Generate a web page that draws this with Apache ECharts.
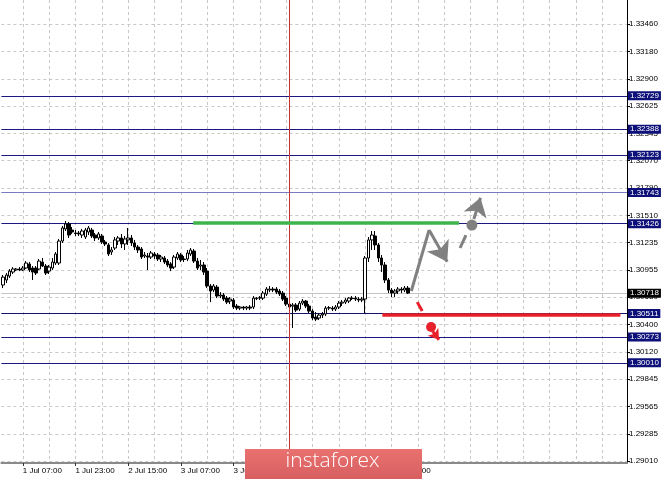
<!DOCTYPE html>
<html>
<head>
<meta charset="utf-8">
<script src="https://cdn.jsdelivr.net/npm/echarts@6/dist/echarts.min.js"></script>
<style>html,body{margin:0;padding:0;background:#fff}#c{width:665px;height:480px}</style>
</head>
<body>
<div id="c"></div>
<script>
// ---- data ----
const slotCount = 190;                // category slots on the time axis (incl. empty future)
const firstBar = 10;                  // bar number of first drawn candle (1 Jul 01:00)
const labelEvery = 16;                // time label every 16 H1 bars
const gridEvery = 8;                  // vertical grid every 8 bars
const lastBar = 133;
const xTickLabels = ['1 Jul 07:00','1 Jul 23:00','2 Jul 15:00','3 Jul 07:00','3 Jul 23:00','4 Jul 15:00','5 Jul 07:00','5 Jul 23:00'];
const yTicks = [1.33460,1.33180,1.32900,1.32625,1.32345,1.32070,1.31790,1.31510,1.31235,1.30955,1.30680,1.30400,1.30120,1.29845,1.29565,1.29285,1.29010];
// [open, close, low, high]
const candles = [
[1.30802,1.30883,1.30771,1.30904],[1.30853,1.30904,1.30822,1.30924],[1.30893,1.30944,1.30873,1.30965],[1.30934,1.30965,1.30914,1.30985],
[1.30955,1.30965,1.30944,1.30975],[1.30965,1.30955,1.30944,1.30985],[1.30955,1.30975,1.30944,1.30995],[1.30975,1.31026,1.30965,1.31046],
[1.31016,1.30955,1.30934,1.31036],[1.30975,1.30934,1.30853,1.30995],[1.30975,1.30924,1.30904,1.30995],[1.30965,1.31046,1.30955,1.31067],
[1.31036,1.30995,1.30985,1.31077],[1.30995,1.30924,1.30904,1.31016],[1.30944,1.30985,1.30914,1.31006],[1.30975,1.31036,1.30955,1.31077],
[1.31026,1.31118,1.31006,1.31138],[1.31026,1.31250,1.31006,1.31271],[1.31250,1.31383,1.31230,1.31403],[1.31373,1.31424,1.31352,1.31454],
[1.31424,1.31311,1.31281,1.31444],[1.31362,1.31342,1.31322,1.31393],[1.31332,1.31327,1.31301,1.31362],[1.31332,1.31322,1.31301,1.31352],
[1.31311,1.31352,1.31281,1.31373],[1.31291,1.31362,1.31271,1.31383],[1.31342,1.31383,1.31311,1.31403],[1.31362,1.31301,1.31281,1.31383],
[1.31311,1.31281,1.31250,1.31332],[1.31281,1.31322,1.31261,1.31342],[1.31301,1.31240,1.31220,1.31322],[1.31240,1.31220,1.31199,1.31261],
[1.31210,1.31118,1.31097,1.31230],[1.31138,1.31159,1.31108,1.31189],[1.31179,1.31261,1.31159,1.31291],[1.31250,1.31281,1.31210,1.31301],
[1.31281,1.31220,1.31179,1.31322],[1.31220,1.31271,1.31159,1.31301],[1.31261,1.31281,1.31210,1.31383],[1.31281,1.31230,1.31199,1.31311],
[1.31230,1.31189,1.31159,1.31261],[1.31189,1.31159,1.31128,1.31210],[1.31169,1.31087,1.31067,1.31189],[1.31097,1.31108,1.31077,1.31138],
[1.31097,1.31087,1.30955,1.31128],[1.31087,1.31128,1.31067,1.31148],[1.31118,1.31097,1.31067,1.31138],[1.31108,1.31067,1.31046,1.31128],
[1.31067,1.31087,1.31036,1.31108],[1.31077,1.31036,1.31016,1.31097],[1.31046,1.31006,1.30985,1.31067],[1.31016,1.30975,1.30944,1.31036],
[1.30985,1.31087,1.30965,1.31108],[1.31077,1.31118,1.31057,1.31138],[1.31108,1.31057,1.31036,1.31128],[1.31067,1.31062,1.31036,1.31097],
[1.31067,1.31128,1.31046,1.31159],[1.31118,1.31159,1.31097,1.31179],[1.31148,1.31046,1.31026,1.31169],[1.31046,1.30975,1.30955,1.31077],
[1.30995,1.31006,1.30955,1.31057],[1.31006,1.30934,1.30904,1.31036],[1.30944,1.30792,1.30771,1.30975],[1.30792,1.30741,1.30628,1.30812],
[1.30751,1.30792,1.30730,1.30812],[1.30781,1.30690,1.30669,1.30802],[1.30690,1.30700,1.30669,1.30730],[1.30700,1.30659,1.30639,1.30720],
[1.30669,1.30628,1.30608,1.30690],[1.30639,1.30659,1.30608,1.30679],[1.30649,1.30578,1.30557,1.30669],[1.30588,1.30567,1.30547,1.30608],
[1.30567,1.30578,1.30547,1.30588],[1.30578,1.30567,1.30547,1.30588],[1.30567,1.30578,1.30547,1.30588],[1.30578,1.30567,1.30547,1.30598],
[1.30578,1.30669,1.30557,1.30690],[1.30669,1.30664,1.30649,1.30679],[1.30669,1.30674,1.30649,1.30690],[1.30669,1.30720,1.30649,1.30741],
[1.30710,1.30761,1.30690,1.30781],[1.30751,1.30761,1.30730,1.30792],[1.30761,1.30751,1.30730,1.30781],[1.30761,1.30730,1.30710,1.30781],
[1.30741,1.30710,1.30690,1.30761],[1.30720,1.30659,1.30639,1.30741],[1.30669,1.30608,1.30588,1.30690],[1.30608,1.30578,1.30557,1.30628],
[1.30588,1.30598,1.30364,1.30618],[1.30598,1.30547,1.30527,1.30618],[1.30557,1.30618,1.30537,1.30639],[1.30618,1.30639,1.30598,1.30659],
[1.30639,1.30588,1.30567,1.30649],[1.30588,1.30537,1.30516,1.30608],[1.30537,1.30466,1.30445,1.30557],[1.30476,1.30455,1.30435,1.30527],
[1.30466,1.30496,1.30445,1.30516],[1.30496,1.30507,1.30466,1.30527],[1.30507,1.30567,1.30486,1.30588],[1.30567,1.30572,1.30547,1.30588],
[1.30567,1.30557,1.30537,1.30588],[1.30557,1.30578,1.30537,1.30598],[1.30578,1.30618,1.30557,1.30639],[1.30618,1.30628,1.30588,1.30649],
[1.30628,1.30649,1.30608,1.30669],[1.30639,1.30669,1.30618,1.30679],[1.30669,1.30664,1.30649,1.30690],[1.30669,1.30659,1.30639,1.30690],
[1.30659,1.30649,1.30628,1.30679],[1.30649,1.30659,1.30628,1.30679],[1.30659,1.31077,1.30516,1.31097],[1.31077,1.31261,1.31036,1.31291],
[1.31261,1.31311,1.31159,1.31352],[1.31301,1.31210,1.31159,1.31352],[1.31210,1.31077,1.31036,1.31230],[1.31077,1.31006,1.30934,1.31108],
[1.31006,1.30853,1.30822,1.31036],[1.30853,1.30751,1.30720,1.30873],[1.30751,1.30720,1.30679,1.30771],[1.30720,1.30741,1.30679,1.30761],
[1.30741,1.30761,1.30710,1.30781],[1.30761,1.30751,1.30720,1.30781],[1.30751,1.30771,1.30730,1.30792],[1.30771,1.30720,1.30710,1.30792]
];
const levels = [1.32729, 1.32388, 1.32123, 1.31743, 1.31426, 1.30511, 1.30273, 1.30010];
const levelColors = ['#1a1a80','#1a1a80','#1a1a80','#7a7ac0','#1a1a80','#14146e','#1a1a80','#1a1a80'];
const currentPrice = 1.30718;
// annotations: [barNumber, price]
const verticalLineBar = 96.9;
const greenSegment = [[67.75, 1.31441], [148.5, 1.31441]];
const redSegment = [[125.2, 1.30502], [197.5, 1.30502]];
const grayPath = [[134.0, 1.30741], [139.4, 1.31362], [144.9, 1.31040]];
const grayDash = [[148.8, 1.31179], [150.6, 1.31311]];
const grayDot = [152.4, 1.31413];
const grayArrow2 = [[153.0, 1.31474], [155.0, 1.31690]];
const redDash = [[135.8, 1.30628], [137.3, 1.30537]];
const redDot = [140.0, 1.30374];
const redArrow = [[140.5, 1.30330], [142.4, 1.30245]];

// ---- chart ----
const categories = Array.from({length: slotCount}, (_, c) => String(firstBar + c));
const candleData = candles.map((c, k) => [k, c[0], c[1], c[2], c[3]]);
const gridBars = [];
for (let b = 0; b <= firstBar + slotCount; b += gridEvery) if (b >= firstBar) gridBars.push(b);
const isLabelSlot = (c) => { const b = firstBar + c; return b % labelEvery === 0 && b <= lastBar; };
const FONT = 'Liberation Sans';
const chart = echarts.init(document.getElementById('c'), null, {renderer: 'canvas'});

function seg(a, b, color, width, endArrow, arrowSize) {
  return [
    {coord: a, symbol: 'none', lineStyle: {color, width, type: 'solid'}},
    {coord: b, symbol: endArrow ? 'arrow' : 'none', symbolSize: arrowSize || 12}
  ];
}

const levelLines = levels.map((v, i) => ({
  yAxis: v,
  lineStyle: {color: levelColors[i], width: 1, type: 'solid'},
  label: {show: true, position: 'end', distance: 1, formatter: v.toFixed(5), color: '#fff',
    backgroundColor: '#0c1078', padding: [1, 2, 0, 2], fontSize: 8, fontFamily: FONT}
}));

chart.setOption({
  animation: false,
  backgroundColor: '#ffffff',
  grid: {left: 0, right: 38, top: 0, bottom: 17, containLabel: false},
  xAxis: [{
    type: 'category', data: categories, boundaryGap: true,
    axisLine: {show: true, lineStyle: {color: '#8a8a8a', width: 2}},
    axisTick: {show: true, alignWithLabel: true, length: 3, interval: (c) => isLabelSlot(c), lineStyle: {color: '#333'}},
    axisLabel: {interval: 0, align: 'left', margin: 4, fontSize: 8, fontFamily: FONT, color: '#000',
      formatter: (v, c) => isLabelSlot(c) ? xTickLabels[(firstBar + c) / labelEvery - 1] : ''},
    splitLine: {show: false}
  }, {
    type: 'value', min: firstBar - 0.5, max: firstBar - 0.5 + slotCount,
    show: true, position: 'bottom',
    axisLine: {show: false}, axisLabel: {show: false},
    axisTick: {show: false, customValues: gridBars},
    splitLine: {show: true, lineStyle: {color: '#c8c8c8', type: [3, 3], width: 1}}
  }],
  yAxis: [{
    type: 'value', position: 'right', min: 1.2899, max: 1.33704, scale: true,
    axisLine: {show: true, lineStyle: {color: '#000', width: 1}},
    axisTick: {show: true, length: 3, customValues: yTicks, lineStyle: {color: '#000'}},
    axisLabel: {customValues: yTicks, margin: 2, fontSize: 8, fontFamily: FONT, color: '#000', formatter: v => v.toFixed(5)},
    splitLine: {show: true, lineStyle: {color: '#c8c8c8', type: [3, 3], width: 1}}
  }],
  series: [{
    type: 'candlestick', xAxisIndex: 0, yAxisIndex: 0,
    data: candleData, encode: {x: 0, y: [1, 2, 3, 4]},
    barWidth: 3,
    itemStyle: {color: '#ffffff', color0: '#000000', borderColor: '#000000', borderColor0: '#000000', borderWidth: 1},
    z: 3,
    markLine: {
      silent: true, symbol: 'none', z: 2, precision: 5,
      data: levelLines.concat([{
        yAxis: currentPrice, lineStyle: {color: '#c4c4c4', width: 1, type: 'solid'},
        label: {show: true, position: 'end', distance: 1, formatter: currentPrice.toFixed(5), color: '#fff',
          backgroundColor: '#000', padding: [1, 2, 0, 2], fontSize: 8, fontFamily: FONT}
      }])
    }
  }, {
    type: 'line', xAxisIndex: 1, yAxisIndex: 0, data: [], z: 5,
    markLine: {
      silent: true, animation: false, label: {show: false}, z: 5, precision: 5,
      data: [
        [{coord: [verticalLineBar, 1.2899], symbol: 'none', lineStyle: {color: '#c83232', width: 1, type: 'solid'}}, {coord: [verticalLineBar, 1.33704], symbol: 'none'}],
        seg(greenSegment[0], greenSegment[1], '#3db54a', 3.5, false),
        seg(redSegment[0], redSegment[1], '#e8202a', 3.5, false),
        seg(grayPath[0], grayPath[1], '#808080', 3, false),
        seg(grayPath[1], grayPath[2], '#808080', 3, true, 19),
        seg(grayDash[0], grayDash[1], '#808080', 3, false),
        seg(grayArrow2[0], grayArrow2[1], '#808080', 3, true, 18),
        seg(redDash[0], redDash[1], '#e8202a', 3, false),
        seg(redArrow[0], redArrow[1], '#e8202a', 3, true, 10)
      ]
    },
    markPoint: {
      silent: true, animation: false, label: {show: false},
      data: [
        {coord: grayDot, symbol: 'circle', symbolSize: 11, itemStyle: {color: '#808080'}},
        {coord: redDot, symbol: 'circle', symbolSize: 10, itemStyle: {color: '#e8202a'}}
      ]
    }
  }],
  graphic: [{
    type: 'rect', left: 245, top: 449, z: 1000, zlevel: 1,
    shape: {x: 0, y: 0, width: 177, height: 30},
    style: {fill: new echarts.graphic.LinearGradient(0, 0, 0, 1, [{offset: 0, color: '#e9716f'}, {offset: 1, color: '#d85f60'}])}
  }, {
    type: 'text', left: 'center', top: 451, z: 1001, zlevel: 1,
    style: {text: 'instaforex', fill: '#ffffff', font: '300 21px "Open Sans"', x: 333.5}
  }]
});
</script>
</body>
</html>
